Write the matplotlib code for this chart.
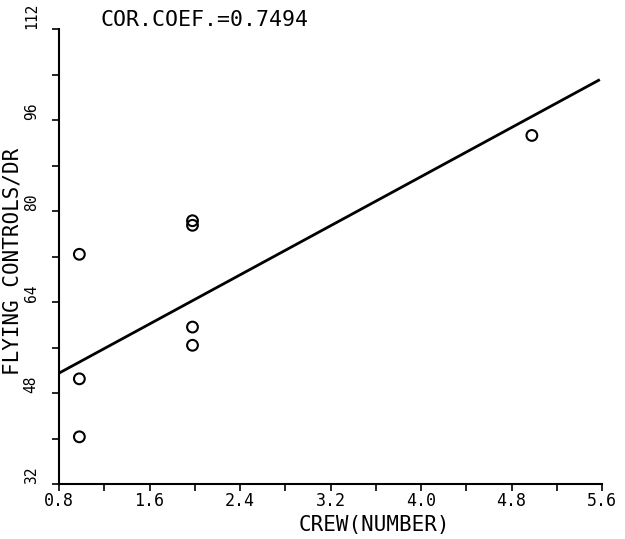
import matplotlib
matplotlib.use("Agg")
import matplotlib.pyplot as plt
import numpy as np

plt.rcParams['font.family'] = ['DejaVu Sans Mono', 'DejaVu Sans']

# crew number vs flying controls per DR
crew = [0.98, 0.98, 0.98, 1.98, 1.98, 1.98, 1.98, 4.98]
controls = [72.4, 50.5, 40.3, 78.3, 77.5, 59.6, 56.4, 93.3]

# regression line as drawn
fit_x = [0.8, 5.57]
fit_y = [51.5, 103.0]

xticks = [0.8, 1.6, 2.4, 3.2, 4.0, 4.8, 5.6]
yticks = [32, 48, 64, 80, 96, 112]
title = "COR.COEF.=0.7494"

fig = plt.figure(figsize=(6.25, 5.39), dpi=100)
ax = fig.add_axes([0.0944, 0.102, 0.8688, 0.844])

ax.plot(fit_x, fit_y, color="black", lw=2)
ax.scatter(crew, controls, s=60, facecolors="none", edgecolors="black", linewidths=1.5, zorder=3)

ax.set_xlim(0.8, 5.6)
ax.set_ylim(32, 112)
ax.set_xticks(xticks)
ax.set_xticklabels([f"{v:.1f}" for v in xticks], fontsize=12)
ax.set_yticks(yticks)
ax.set_yticklabels([str(v) for v in yticks], fontsize=10.5, rotation=90,
                   rotation_mode="anchor", ha="left", va="center")
ax.set_xticks(np.arange(1.2, 5.6, 0.8), minor=True)
ax.set_yticks(np.arange(40, 112, 16), minor=True)
ax.tick_params(which="both", direction="out", length=5, width=1.2)
ax.tick_params(axis="x", pad=1)
ax.tick_params(axis="y", pad=15)

for s in ["top", "right"]:
    ax.spines[s].set_visible(False)
for s in ["left", "bottom"]:
    ax.spines[s].set_linewidth(1.5)

ax.set_xlabel("CREW(NUMBER)", fontsize=15)
ax.xaxis.set_label_coords(0.58, -0.067)
ax.set_ylabel("FLYING CONTROLS/DR", fontsize=15)
ax.yaxis.set_label_coords(-0.068, 0.49)

fig.text(100 / 625, 1 - 20 / 539, title, fontsize=15.5, ha="left", va="center")

fig.savefig("out.png", dpi=100)
